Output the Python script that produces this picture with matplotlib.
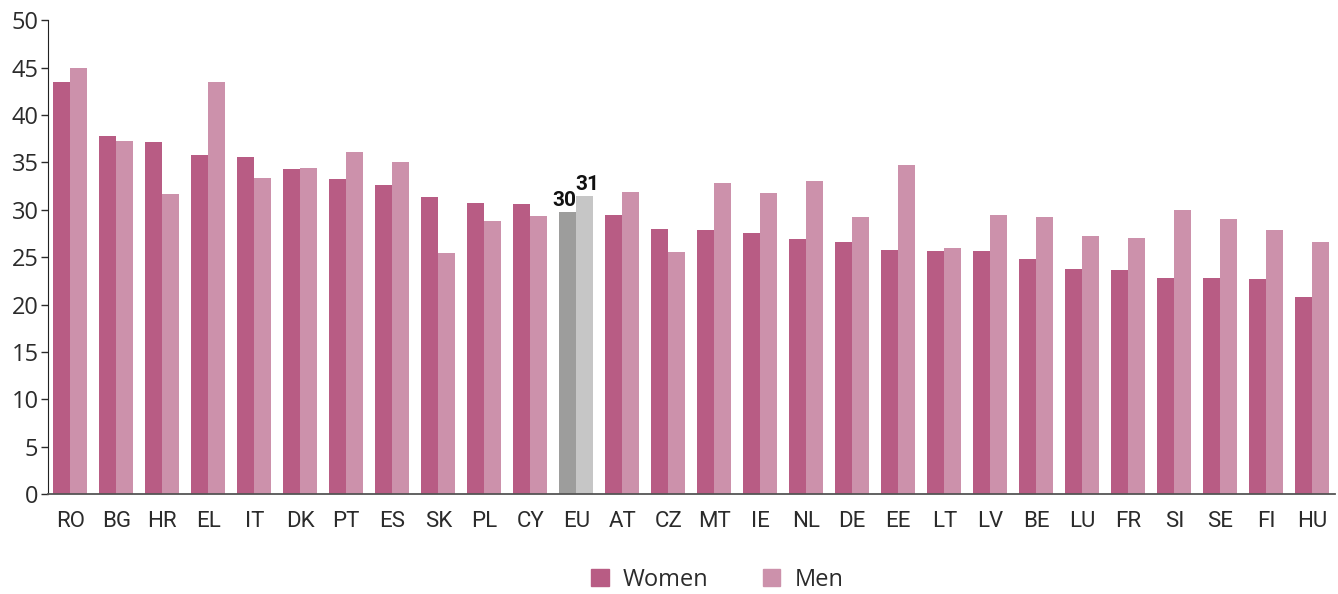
import matplotlib
matplotlib.use('Agg')
import matplotlib.pyplot as plt
import numpy as np
from matplotlib.patches import Patch

# data
countries = ['RO', 'BG', 'HR', 'EL', 'IT', 'DK', 'PT', 'ES', 'SK', 'PL', 'CY', 'EU', 'AT', 'CZ',
             'MT', 'IE', 'NL', 'DE', 'EE', 'LT', 'LV', 'BE', 'LU', 'FR', 'SI', 'SE', 'FI', 'HU']
women = [43.5, 37.8, 37.1, 35.8, 35.6, 34.3, 33.3, 32.6, 31.3, 30.7, 30.6, 29.8, 29.5, 28.0,
         27.9, 27.6, 26.9, 26.6, 25.8, 25.7, 25.7, 24.8, 23.8, 23.7, 22.8, 22.8, 22.7, 20.8]
men = [45.0, 37.3, 31.7, 43.5, 33.4, 34.4, 36.1, 35.0, 25.4, 28.8, 29.3, 31.5, 31.9, 25.5,
       32.8, 31.8, 33.0, 29.2, 34.7, 26.0, 29.5, 29.2, 27.2, 27.0, 30.0, 29.0, 27.9, 26.6]
eu_labels = ['30', '31']

c_women = '#B85C84'
c_men = '#CC91AB'
c_eu_women = '#9D9D9C'
c_eu_men = '#C6C6C6'
txt = '#2b2b2b'
narrow = ['Roboto', 'DejaVu Sans']

plt.rcParams['font.family'] = ['Open Sans', 'DejaVu Sans']

fig = plt.figure(figsize=(13.38, 5.94), dpi=100)
ax = fig.add_axes([0.036, 0.168, 0.962, 0.798])

x = np.arange(len(countries))
w = 0.37
eu = countries.index('EU')
col_w = [c_eu_women if c == 'EU' else c_women for c in countries]
col_m = [c_eu_men if c == 'EU' else c_men for c in countries]
ax.bar(x - w / 2, women, w, color=col_w, linewidth=0)
ax.bar(x + w / 2, men, w, color=col_m, linewidth=0)

# EU value labels, meeting at the middle of the pair
ax.text(eu + 0.01, women[eu] + 0.2, eu_labels[0], ha='right', va='bottom',
        fontsize=15, fontweight='bold', color='#111111', family=narrow)
ax.text(eu - 0.01, men[eu] + 0.2, eu_labels[1], ha='left', va='bottom',
        fontsize=15, fontweight='bold', color='#111111', family=narrow)

ax.set_xlim(-0.48, 27.5)
ax.set_ylim(0, 50)
ax.set_yticks(np.arange(0, 51, 5))
ax.set_xticks(x)
ax.set_xticklabels(countries, family=narrow, fontsize=16, color=txt)
ax.tick_params(axis='x', length=0, pad=12)
ax.tick_params(axis='y', length=5, width=1, direction='out', labelsize=17, colors=txt, pad=2)

for s in ['top', 'right']:
    ax.spines[s].set_visible(False)
ax.spines['left'].set_color('#222222')
ax.spines['bottom'].set_color('#555555')
ax.spines['bottom'].set_linewidth(1.3)

handles = [Patch(color=c_women, label='Women'), Patch(color=c_men, label='Men')]
fig.legend(handles=handles, loc='center', bbox_to_anchor=(0.536, 0.024), ncol=2,
           frameon=False, fontsize=17, handlelength=0.75, handleheight=0.75,
           columnspacing=2.3, handletextpad=0.6, labelcolor=txt,
           borderpad=0, borderaxespad=0)

fig.savefig('out.png', dpi=100)
